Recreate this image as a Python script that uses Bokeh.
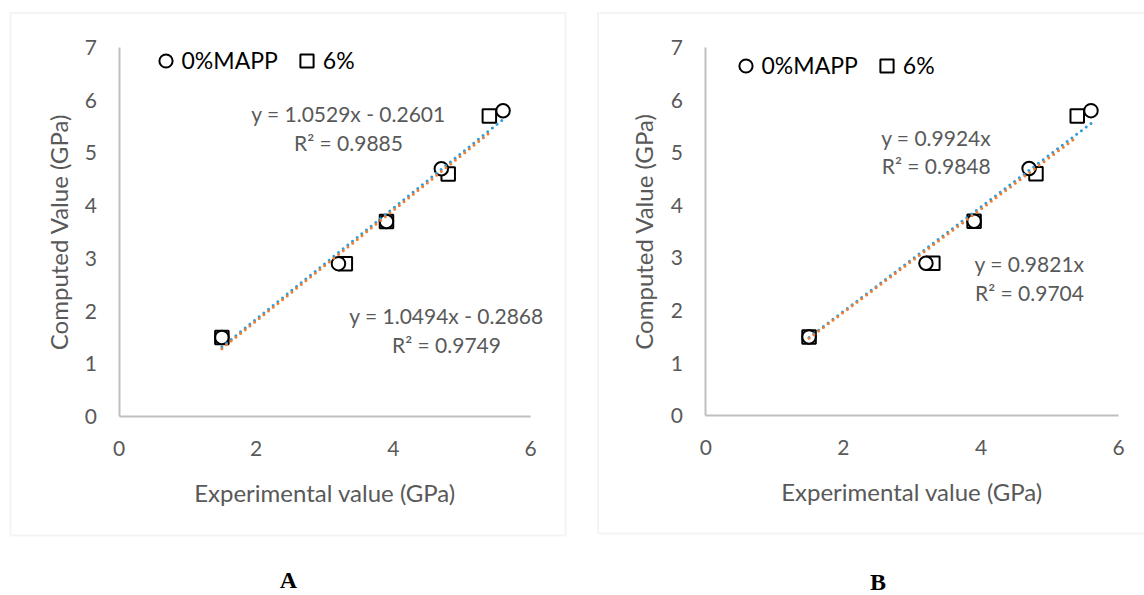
from bokeh.plotting import figure
from bokeh.layouts import row
from bokeh.models import Range1d, Label, BoxAnnotation, Legend, LegendItem
from bokeh.embed import file_html
from bokeh.resources import INLINE

# ---- data (same measurements in both panels) ----
exp_0 = [1.5, 3.2, 3.9, 4.7, 5.6]     # 0%MAPP experimental
comp_0 = [1.5, 2.9, 3.7, 4.7, 5.8]    # 0%MAPP computed
exp_6 = [1.5, 3.3, 3.9, 4.8, 5.4]     # 6% experimental
comp_6 = [1.5, 2.9, 3.7, 4.6, 5.7]    # 6% computed

x_ticks = [0, 2, 4, 6]
y_ticks = [0, 1, 2, 3, 4, 5, 6, 7]

# trendline fits: slope, intercept, R^2 (as labelled on the chart)
fitA_0 = (1.0529, -0.2601, 0.9885)
fitA_6 = (1.0494, -0.2868, 0.9749)
fitB_0 = (0.9924, 0.0, 0.9848)
fitB_6 = (0.9821, 0.0, 0.9704)

BLUE = "#2B9BDA"
ORANGE = "#EE7D31"
GRAY_TXT = "#595959"
FONT = "Lato"
FS = "21px"
H = 595


def eq_text(fit):
    m, b, r2 = fit
    if b == 0:
        s = f"y = {m:.4f}x"
    elif b < 0:
        s = f"y = {m:.4f}x - {abs(b):.4f}"
    else:
        s = f"y = {m:.4f}x + {b:.4f}"
    return s, f"R\u00b2 = {r2:.4f}"


def make_panel(width, x0px, x6px, y0px, y7px, fit0, fit6, lab0, lab6, leg_px,
               box_px, letter, letter_px, ystand, ytitle_stand, spacing):
    sx = (x6px - x0px) / 6.0
    sy = (y0px - y7px) / 7.0

    def X(px):
        return (px - x0px) / sx

    def Y(py):
        return (y0px - py) / sy

    p = figure(width=width, height=H, output_backend="svg", toolbar_location=None,
               x_range=Range1d(X(0), X(width)), y_range=Range1d(Y(H), Y(0)),
               min_border_left=0, min_border_right=0,
               min_border_top=0, min_border_bottom=0)
    p.outline_line_color = None
    p.grid.visible = False
    p.background_fill_color = "white"
    p.border_fill_color = "white"

    for ax in (p.xaxis[0], p.yaxis[0]):
        ax.fixed_location = 0
        ax.axis_line_color = "#BFBFBF"
        ax.axis_line_width = 2
        ax.major_tick_line_color = None
        ax.minor_tick_line_color = None
        ax.major_tick_out = 0
        ax.major_tick_in = 0
        ax.major_label_text_font = FONT
        ax.major_label_text_font_size = FS
        ax.major_label_text_color = GRAY_TXT
        ax.axis_label_text_font = FONT
        ax.axis_label_text_font_size = "24px"
        ax.axis_label_text_color = GRAY_TXT
        ax.axis_label_text_font_style = "normal"
    p.xaxis.bounds = (0, 6)
    p.yaxis.bounds = (0, 7)
    p.xaxis.ticker = x_ticks
    p.yaxis.ticker = y_ticks
    p.xaxis.axis_label = "Experimental value (GPa)"
    p.yaxis.axis_label = "Computed Value (GPa)"
    p.xaxis.major_label_standoff = 24
    p.xaxis.axis_label_standoff = 19
    p.yaxis.major_label_standoff = ystand
    p.yaxis.axis_label_standoff = ytitle_stand

    r_sq = p.scatter(exp_6, comp_6, marker="square", size=13.5, line_color="black",
                     line_width=2, fill_color="white")
    r_c = p.scatter(exp_0, comp_0, marker="circle", size=13.5, line_color="black",
                    line_width=2, fill_color="white")

    for xs, fit, col in ((exp_0, fit0, BLUE), (exp_6, fit6, ORANGE)):
        m, b, _ = fit
        lx = [min(xs), max(xs)]
        ly = [m * v + b for v in lx]
        p.line(lx, ly, line_color=col, line_width=3, line_dash="0 6", line_cap="round")

    for fit, (cx, y1, y2) in ((fit0, lab0), (fit6, lab6)):
        t1, t2 = eq_text(fit)
        for t, yy in ((t1, y1), (t2, y2)):
            p.add_layout(Label(x=X(cx), y=Y(yy), text=t, text_align="center",
                               text_baseline="middle", text_font=FONT,
                               text_font_size=FS, text_color=GRAY_TXT))

    # legend: leg_px = (left px of first glyph box, bottom px of legend)
    legend = Legend(items=[LegendItem(label="0%MAPP", renderers=[r_c]),
                           LegendItem(label="6%", renderers=[r_sq])],
                    orientation="horizontal", location=(leg_px[0], H - leg_px[1]),
                    margin=0, padding=0, spacing=spacing, glyph_width=33, glyph_height=33,
                    label_standoff=0, border_line_color=None, background_fill_alpha=0,
                    label_text_font=FONT, label_text_font_size="23px",
                    label_text_color="black")
    p.add_layout(legend)

    l, r, t, btm = box_px
    p.add_layout(BoxAnnotation(left=X(l), right=X(r), top=Y(t), bottom=Y(btm),
                               fill_alpha=0, line_color="#D9D9D9", line_width=2))
    p.add_layout(Label(x=X(letter_px[0]), y=Y(letter_px[1]), text=letter,
                       text_align="center", text_baseline="middle",
                       text_font="Liberation Serif", text_font_style="bold",
                       text_font_size="24px", text_color="black"))
    return p


pA = make_panel(580, 118.5, 530, 416, 47, fitA_0, fitA_6,
                (348, 113, 142), (446, 315, 344), (148.5, 76.5),
                (10, 565, 12.5, 535), "A", (288, 579), 22, 9, 12)
pB = make_panel(564, 125.4, 538, 415.3, 47, fitB_0, fitB_6,
                (935.7 - 580, 137, 165), (1029 - 580, 263, 292), (148.5, 81.5),
                (17.5, 590, 12.5, 533), "B", (297.5, 581), 23, 9, 12)

layout = row(pA, pB, spacing=0)
open("out.html", "w").write(file_html(layout, INLINE))
